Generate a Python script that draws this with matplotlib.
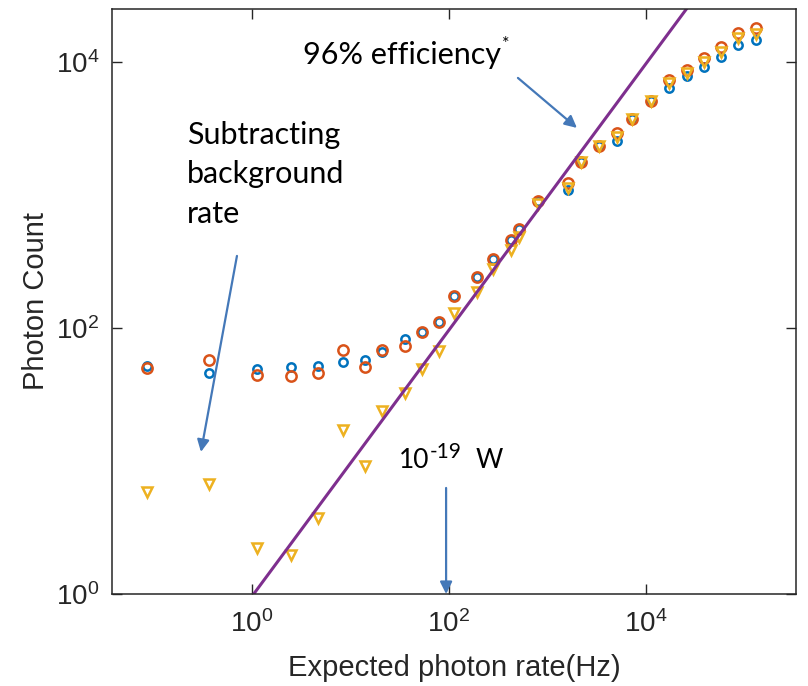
import matplotlib
matplotlib.use("Agg")
import matplotlib.pyplot as plt

plt.rcParams['font.family'] = ['Liberation Sans', 'DejaVu Sans']
plt.rcParams['mathtext.default'] = 'regular'

# ---------------- data ----------------
rate_hz = [0.086, 0.37, 1.12, 2.47, 4.7, 8.4, 14.1, 20.8, 35.9, 53, 79.5, 114,
           192, 283, 426, 517, 812, 1627, 2205, 3400, 5180, 7280, 11350, 17290,
           26180, 39700, 58400, 86900, 132400]
count_blue = [51.8, 45.9, 49.2, 50.9, 51.8, 55.5, 57.5, 66, 82.7, 94, 111, 175,
              242, 328, 459, 552, 906, 1091, 1755, 2335, 2546, 3706, 5090, 6380,
              7860, 9170, 10920, 13430, 14640]
count_red = [50, 57.4, 44.3, 43.6, 45.9, 68.4, 50.9, 68, 73.2, 94, 111, 175,
             242, 328, 459, 552, 906, 1231, 1755, 2335, 2924, 3706, 5090, 7325,
             8710, 10720, 12970, 16520, 18020]
count_bgsub = [5.85, 6.7, 2.22, 1.96, 3.73, 17.1, 9.17, 23.8, 32.5, 49.2, 67.5, 129,
               187, 276, 386, 486, 855, 1129, 1755, 2335, 2729, 3706, 5090, 6950,
               8280, 10000, 11950, 15000, 16300]
efficiency = 0.96
line_x = [1.0, 1e6]

xticks = [1, 100, 10000]
yticks = [1, 100, 10000]

# ---------------- figure ----------------
fig = plt.figure(figsize=(8.08, 6.86), dpi=100)
ax = fig.add_axes([0.1386, 0.1341, 0.8465, 0.8528])
ax.set_xscale('log')
ax.set_yscale('log')

blue = '#0072BD'
red = '#D95319'
yellow = '#EDB120'
purple = '#7E2F8E'
arrow_c = '#4478B8'
axc = '#262626'

ax.plot(rate_hz, count_blue, 'o', ls='none', mfc='none', mec=blue, ms=6.0, mew=1.8)
ax.plot(rate_hz, count_red, 'o', ls='none', mfc='none', mec=red, ms=7.4, mew=1.8)
ax.plot(rate_hz, count_bgsub, 'v', ls='none', mfc='none', mec=yellow, ms=7.8, mew=1.8)
ax.plot(line_x, [efficiency * v for v in line_x], '-', color=purple, lw=2.2)

ax.set_xlim(0.0378, 3.38e5)
ax.set_ylim(1, 2.5e4)
ax.set_xticks(xticks)
ax.set_yticks(yticks)
ax.minorticks_off()
ax.tick_params(which='both', direction='in', top=True, right=True, length=7,
               width=1.0, colors=axc, labelsize=20, pad=9)
ax.tick_params(axis='x', pad=12)
for s in ax.spines.values():
    s.set_color(axc)
    s.set_linewidth(1.1)

ax.set_xlabel('Expected photon rate(Hz)', fontsize=21, color=axc, labelpad=11)
ax.set_ylabel('Photon Count', fontsize=21, color=axc, labelpad=4)

# ---------------- annotations ----------------
afont = ['Lato', 'DejaVu Sans']
t_eff = ax.text(3.3, 11200, '96% efficiency', fontsize=22, family=afont,
                va='center', ha='left')
ax.annotate('*', xy=(1.0, 0.62), xycoords=t_eff, xytext=(1, 0),
            textcoords='offset points', fontsize=13, family=afont,
            va='bottom', ha='left')
ax.text(0.219, 3600, 'Subtracting\nbackground\nrate', fontsize=22, family=afont,
        va='top', ha='left', linespacing=1.5)
t10 = ax.text(31.2, 10.0, '10', fontsize=19, family=afont, va='center', ha='left')
tsup = ax.annotate('-19', xy=(1.0, 0.45), xycoords=t10, xytext=(0.5, 0),
                   textcoords='offset points', fontsize=15, family=afont,
                   va='bottom', ha='left')
ax.annotate('W', xy=(1.0, 0.5), xycoords=(tsup, t10), xytext=(10, 0),
            textcoords='offset points', fontsize=19, family=afont,
            va='center', ha='left')

arrowprops = dict(arrowstyle='-|>', color=arrow_c, lw=1.6, mutation_scale=18,
                  shrinkA=0, shrinkB=0)
ax.annotate('', xy=(0.303, 11.7), xytext=(0.704, 348), arrowprops=arrowprops)
ax.annotate('', xy=(2009, 3190), xytext=(505, 7580), arrowprops=arrowprops)
ax.annotate('', xy=(94, 1.0), xytext=(94, 6.27), arrowprops=arrowprops)

fig.savefig('out.png', dpi=100)
